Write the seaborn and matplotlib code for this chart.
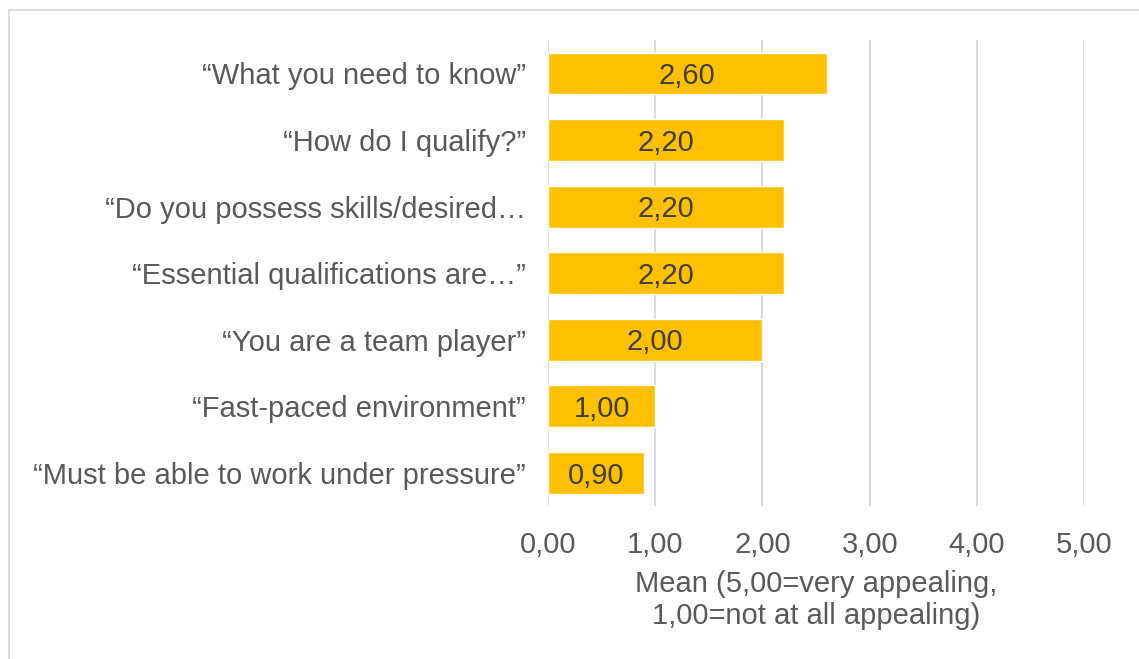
import pandas as pd
import seaborn as sns
from matplotlib import pyplot as plt
from matplotlib.patches import Rectangle

statements = ['“What you need to know”', '“How do I qualify?”', '“Do you possess skills/desired…',
              '“Essential qualifications are…”', '“You are a team player”', '“Fast-paced environment”',
              '“Must be able to work under pressure”']
means = [2.60, 2.20, 2.20, 2.20, 2.00, 1.00, 0.90]
xticks = [0, 1, 2, 3, 4, 5]

df = pd.DataFrame({'statement': statements, 'mean': means})

sns.set_style('white')
plt.rcParams['font.family'] = ['Liberation Sans', 'DejaVu Sans']
txt = '#595959'
fs = 21

fig = plt.figure(figsize=(11.39, 6.59), dpi=100)
ax = fig.add_axes([0.481, 0.232, 0.471, 0.707])
sns.barplot(data=df, x='mean', y='statement', order=statements, color='#FFC000',
            saturation=1, width=0.63, ax=ax, zorder=3)

for c in ax.containers:
    labels = ax.bar_label(c, labels=[f'{v:.2f}'.replace('.', ',') for v in means],
                          label_type='center', fontsize=fs, color='#404040')
    for t in labels:
        t.xyann = (0, -2)

ax.set_xlim(0, 5.0)
ax.set_ylim(6.5, -0.5)
ax.set_xticks(xticks)
ax.set_xticklabels([f'{v:.2f}'.replace('.', ',') for v in xticks])
ax.grid(axis='x', color='#D9D9D9', linewidth=1.3, zorder=0)
ax.tick_params(axis='both', length=0, labelsize=fs, labelcolor=txt)
ax.tick_params(axis='y', pad=16)
ax.tick_params(axis='x', pad=18)
for s in ax.spines.values():
    s.set_visible(False)
ax.set_ylabel('')
ax.set_xlabel('Mean (5,00=very appealing,\n1,00=not at all appealing)', fontsize=fs, color=txt,
              labelpad=8, linespacing=1.15)

# chart frame (clipped at right and bottom)
fig.patches.append(Rectangle((9 / 1139, -0.1), 1.2, 1 - 10 / 659 + 0.1, transform=fig.transFigure,
                             fill=False, edgecolor='#D9D9D9', linewidth=1.3))

plt.savefig('out.png', dpi=100)
